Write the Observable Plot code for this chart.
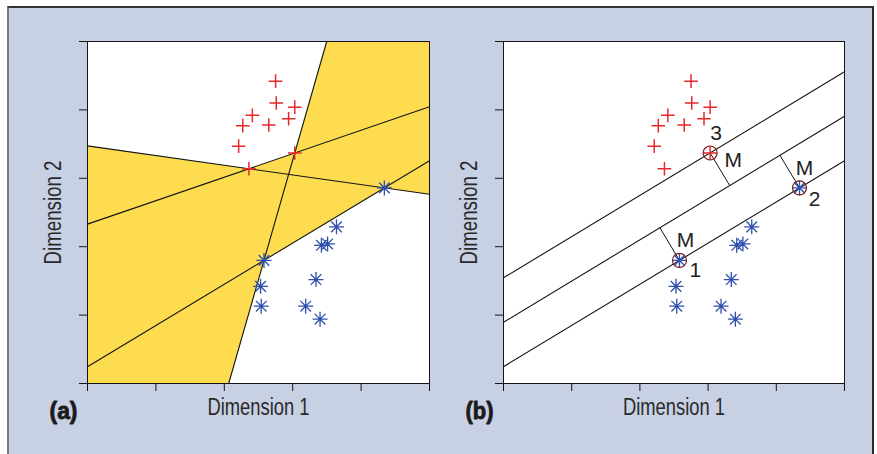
<!DOCTYPE html>
<html><head><meta charset="utf-8">
<script src="https://cdn.jsdelivr.net/npm/d3@7"></script>
<script src="https://cdn.jsdelivr.net/npm/@observablehq/plot@0.6"></script>
<style>
html,body{margin:0;padding:0;background:#fff;}
#wrap{position:relative;width:877px;height:454px;overflow:hidden;background:#fff;}
#bg{position:absolute;left:7px;top:6px;width:867px;height:460px;background:#c8d0e4;border-left:2px solid #7a7a7a;border-top:2px solid #333;border-right:2px solid #2a2a2a;box-sizing:border-box;}
#pa{position:absolute;left:0;top:0;}
#pb{position:absolute;left:440px;top:0;}
</style></head>
<body><div id="wrap"><div id="bg"></div><div id="pa"></div><div id="pb"></div></div>
<script>
// ---- data ----
const tickVals = [0, 1, 2, 3, 4, 5];
const domainX = [0, 5];
const domainY = [0, 5];
// class 1 (red "+")
const redX = [2.75, 2.76, 3.03, 2.41, 2.27, 2.65, 2.94, 2.21, 3.03, 2.36];
const redY = [4.42, 4.10, 4.04, 3.92, 3.77, 3.78, 3.87, 3.47, 3.37, 3.14];
// class 2 (blue "*")
const blueX = [4.34, 3.64, 3.42, 3.51, 2.58, 3.34, 2.53, 2.54, 3.19, 3.40];
const blueY = [2.86, 2.29, 2.02, 2.04, 1.80, 1.52, 1.42, 1.13, 1.13, 0.94];
// panel (a): candidate separating lines, each through two data points [class, index]
const linesA = [
  [["blue", 4], ["red", 8]],   // steep line
  [["red", 9], ["blue", 0]],   // falling line
  [["red", 9], ["red", 8]],    // upper rising line
  [["blue", 4], ["blue", 0]]   // lower rising line
];
// panel (b): support vectors and their labels
const supportVectors = [["blue", 4, "1"], ["blue", 0, "2"], ["red", 8, "3"]];
const marginLabel = "M";
const xTitle = "Dimension 1";
const yTitle = "Dimension 2";
const panelTitles = ["(a)", "(b)"];

// ---- helpers ----
const red = redX.map((x, i) => ({x, y: redY[i]}));
const blue = blueX.map((x, i) => ({x, y: blueY[i]}));
const pt = ([c, i]) => c === "red" ? [redX[i], redY[i]] : [blueX[i], blueY[i]];
const side = (p, q) => r => (q[0]-p[0])*(r[1]-p[1]) - (q[1]-p[1])*(r[0]-p[0]);
function clip(poly, f, sign) {
  const out = [];
  for (let i = 0; i < poly.length; i++) {
    const a = poly[i], b = poly[(i+1) % poly.length];
    const fa = sign*f(a), fb = sign*f(b);
    if (fa >= 0) out.push(a);
    if ((fa >= 0) !== (fb >= 0)) { const t = fa/(fa-fb); out.push([a[0]+t*(b[0]-a[0]), a[1]+t*(b[1]-a[1])]); }
  }
  return out;
}
function lineInBox(p, q) {
  const [x0, x1] = domainX, [y0, y1] = domainY, pts = [];
  const dx = q[0]-p[0], dy = q[1]-p[1], e = 1e-9;
  if (dx !== 0) for (const X of [x0, x1]) { const Y = p[1] + (X-p[0])/dx*dy; if (Y >= y0-e && Y <= y1+e) pts.push([X, Y]); }
  if (dy !== 0) for (const Y of [y0, y1]) { const X = p[0] + (Y-p[1])/dy*dx; if (X >= x0-e && X <= x1+e) pts.push([X, Y]); }
  pts.sort((a, b) => a[0]-b[0] || a[1]-b[1]);
  return {x1: pts[0][0], y1: pts[0][1], x2: pts[pts.length-1][0], y2: pts[pts.length-1][1]};
}
const box = [[domainX[0], domainY[0]], [domainX[1], domainY[0]], [domainX[1], domainY[1]], [domainX[0], domainY[1]]];

// symbols
const plusSym = {draw(ctx, size) { const r = Math.sqrt(size/Math.PI); ctx.moveTo(-r, 0); ctx.lineTo(r, 0); ctx.moveTo(0, -r); ctx.lineTo(0, r); }};
const starSym = {draw(ctx, size) { const r = Math.sqrt(size/Math.PI), d = r*Math.SQRT1_2;
  ctx.moveTo(-r, 0); ctx.lineTo(r, 0); ctx.moveTo(0, -r); ctx.lineTo(0, r);
  ctx.moveTo(-d, -d); ctx.lineTo(d, d); ctx.moveTo(-d, d); ctx.lineTo(d, -d); }};

const YELLOW = "#fddc4f", RED = "#e8262d", BLUE = "#2f4fae", INK = "#141414", CIRC = "#7a1f22";
const FONT = "'Liberation Sans Narrow','Arial Narrow','Liberation Sans',Arial,sans-serif";

// ---- panel (a) geometry ----
const [lA, lB, lC, lD] = linesA.map(([p, q]) => side(pt(p), pt(q)));
let w1 = clip(clip(clip(box, lA, 1), lB, 1), lC, 1);
let w2 = clip(clip(clip(box, lA, -1), lD, -1), lB, -1);
const whitePolys = [...w1.map(([x, y]) => ({x, y, id: 1})), ...w2.map(([x, y]) => ({x, y, id: 2}))];
const segsA = linesA.map(([p, q]) => lineInBox(pt(p), pt(q)));

// ---- panel (b) geometry ----
const s1 = pt(["blue", 4]), s2 = pt(["blue", 0]), s3 = pt(["red", 8]);
const u = [s2[0]-s1[0], s2[1]-s1[1]];
const mid = [(s1[0]+s3[0])/2, (s1[1]+s3[1])/2];
const through = p => lineInBox(p, [p[0]+u[0], p[1]+u[1]]);
const segsB = [through(s3), through(mid), through(s1)];
const foot = s => { const t = ((s[0]-mid[0])*u[0] + (s[1]-mid[1])*u[1]) / (u[0]*u[0]+u[1]*u[1]); return [mid[0]+t*u[0], mid[1]+t*u[1]]; };
const svs = supportVectors.map(([c, i, label]) => { const p = pt([c, i]); const f = foot(p); return {x: p[0], y: p[1], fx: f[0], fy: f[1], label}; });

const axisX = {domain: domainX, ticks: tickVals, tickSize: 8, tickFormat: () => "", label: null};
const axisY = {domain: domainY, ticks: tickVals, tickSize: 8, tickFormat: () => "", label: null};
const common = {height: 454, marginTop: 41, marginBottom: 71, x: axisX, y: axisY,
  style: {background: "transparent", color: INK, overflow: "visible"}};

function titles(panel) {
  return [
    Plot.text([xTitle], {text: d => d, frameAnchor: "bottom", textAnchor: "middle", dy: 31, fill: "#2a2a2a"}),
    Plot.text([yTitle], {text: d => d, frameAnchor: "left", textAnchor: "middle", dx: -34, rotate: -90, fill: "#2a2a2a"}),
    Plot.text([panelTitles[panel]], {text: d => d, frameAnchor: "bottom-left", textAnchor: "middle", dx: -24, dy: 35, fill: "#1a1a1a", stroke: "#1a1a1a", strokeWidth: 0.8})
  ];
}
// text sizing (applied as inline style)
const textStyle = {"Dimension 1": [23, 400, 102], "Dimension 2": [23, 400, 104], "(a)": [24, 900, 28], "(b)": [24, 900, 28],
  "M": [21, 400, 0], "1": [21, 400, 0], "2": [21, 400, 0], "3": [21, 400, 0]};
function fixText(svg) {
  d3.select(svg).selectAll("text").each(function() {
    const s = textStyle[this.textContent];
    if (!s) return;
    this.style.fontFamily = FONT; this.style.fontSize = s[0] + "px"; this.style.fontWeight = s[1];
    if (s[2]) { this.setAttribute("textLength", s[2]); this.setAttribute("lengthAdjust", "spacingAndGlyphs"); }
  });
  return svg;
}

const pa = Plot.plot({...common, width: 440, marginLeft: 87, marginRight: 11,
  marks: [
    Plot.frame({fill: YELLOW, stroke: "none"}),
    Plot.line(whitePolys, {x: "x", y: "y", z: "id", fill: "white", stroke: "none"}),
    Plot.link(segsA, {x1: "x1", y1: "y1", x2: "x2", y2: "y2", stroke: INK, strokeWidth: 1.1}),
    Plot.frame({stroke: INK, strokeWidth: 1}),
    Plot.dot(red, {x: "x", y: "y", symbol: plusSym, r: 6.8, stroke: RED, strokeWidth: 1.5, fill: "none"}),
    Plot.dot(blue, {x: "x", y: "y", symbol: starSym, r: 7.5, stroke: BLUE, strokeWidth: 1.3, fill: "none"}),
    ...titles(0)
  ]});
document.getElementById("pa").appendChild(fixText(pa));

const svAt = label => svs.filter(d => d.label === label);
const lab = (label, text, dx, dy) => Plot.text(svAt(label), {x: "x", y: "y", text: () => text, dx, dy, fill: "#222"});
const pb = Plot.plot({...common, width: 437, marginLeft: 63, marginRight: 33,
  marks: [
    Plot.frame({fill: "white", stroke: "none"}),
    Plot.link(segsB, {x1: "x1", y1: "y1", x2: "x2", y2: "y2", stroke: INK, strokeWidth: 1.1}),
    Plot.link(svs, {x1: "x", y1: "y", x2: "fx", y2: "fy", stroke: INK, strokeWidth: 1}),
    Plot.frame({stroke: INK, strokeWidth: 1}),
    Plot.dot(red, {x: "x", y: "y", symbol: plusSym, r: 6.8, stroke: RED, strokeWidth: 1.5, fill: "none"}),
    Plot.dot(blue, {x: "x", y: "y", symbol: starSym, r: 7.5, stroke: BLUE, strokeWidth: 1.3, fill: "none"}),
    Plot.dot(svs, {x: "x", y: "y", r: 7, stroke: CIRC, strokeWidth: 1.2, fill: "none"}),
    lab("3", "3", 6, -20), lab("3", marginLabel, 23, 7),
    lab("2", "2", 15, 11), lab("2", marginLabel, 5, -20),
    lab("1", "1", 16, 10), lab("1", marginLabel, 6, -20),
    ...titles(1)
  ]});
document.getElementById("pb").appendChild(fixText(pb));
</script>
</body></html>
